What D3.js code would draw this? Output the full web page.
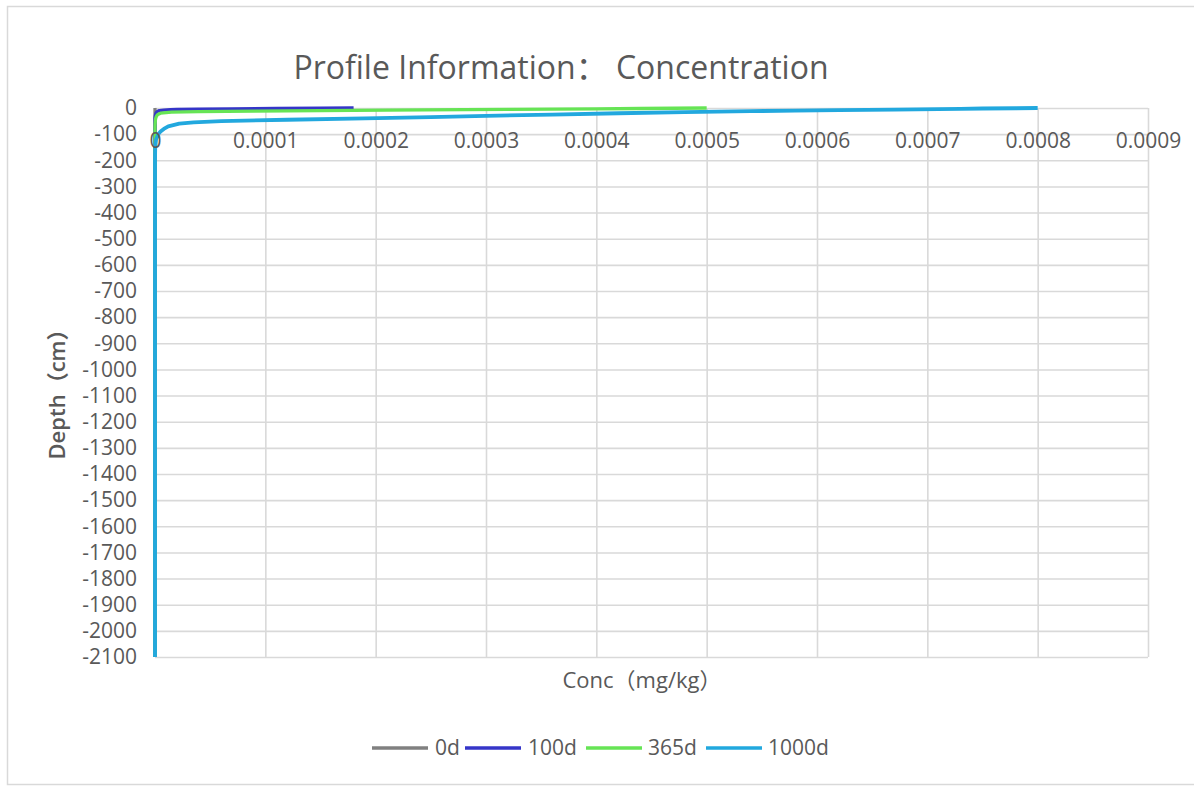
<!DOCTYPE html>
<html>
<head>
<meta charset="utf-8">
<script src="https://cdn.jsdelivr.net/npm/d3@7/dist/d3.min.js"></script>
<style>
  html, body { margin: 0; padding: 0; background: #ffffff; }
  svg { display: block; }
  text { font-family: "Open Sans", "Noto Sans CJK SC", sans-serif; fill: #595959; }
</style>
</head>
<body>
<svg id="chart" width="1194" height="787"></svg>
<script>
// Depth grid (cm) shared by every profile
const depths = [0, -1, -2, -3, -4, -5, -6, -8, -10, -12, -14, -16, -20, -25, -30, -35,
  -40, -45, -50, -55, -60, -70, -80, -90, -100, -120, -150, -200, -500, -1000, -1500, -2100];

// Concentration (mg/kg) at each depth, one array per time step
const conc0d = depths.map(() => 0);
const conc100d = [0.00018, 0.00015, 0.00011, 0.00007, 0.00004, 0.00002, 0.000014, 0.000008,
  0.000004, 0.0000028, 0.000002, 0.0000015, 0.0000009, 0.0000005, 0.0000003, 0.0000001,
  0, 0, 0, 0, 0, 0, 0, 0, 0, 0, 0, 0, 0, 0, 0, 0];
const conc365d = [0.0005, 0.00047, 0.00044, 0.0004, 0.00036, 0.00032, 0.00028, 0.00021,
  0.00015, 0.00009, 0.00004, 0.000015, 0.000005, 0.0000025, 0.0000015, 0.000001,
  0.0000006, 0.0000004, 0.0000003, 0.0000002, 0.0000001, 0, 0, 0, 0, 0, 0, 0, 0, 0, 0, 0];
const conc1000d = [0.0008, 0.00078, 0.00075, 0.00073, 0.00071, 0.00069, 0.00067, 0.00062,
  0.00058, 0.00054, 0.00051, 0.00048, 0.00042, 0.00036, 0.0003, 0.00025,
  0.00019, 0.00012, 0.00006, 0.000035, 0.000022, 0.000012, 0.000008, 0.000005,
  0.000003, 0.000001, 0.0000002, 0, 0, 0, 0, 0];

const seriesNames = ["0d", "100d", "365d", "1000d"];
const seriesValues = [conc0d, conc100d, conc365d, conc1000d];
const seriesColors = ["#808080", "#3535c8", "#66e455", "#22a8de"];

// Axis ticks
const xTickValues = [0, 0.0001, 0.0002, 0.0003, 0.0004, 0.0005, 0.0006, 0.0007, 0.0008, 0.0009];
const xTickLabels = ["0", "0.0001", "0.0002", "0.0003", "0.0004", "0.0005", "0.0006", "0.0007", "0.0008", "0.0009"];
const yTickValues = d3.range(0, -2101, -100);
const yTickLabels = yTickValues.map(v => String(v));

const titleText = "Profile Information：  Concentration";
const xTitle = "Conc（mg/kg）";
const yTitle = "Depth（cm）";

const svg = d3.select("#chart");
const plot = { left: 155, right: 1148, top: 108, bottom: 657 };

const x = d3.scaleLinear().domain([0, 0.0009]).range([plot.left, plot.right]);
const y = d3.scaleLinear().domain([-2100, 0]).range([plot.bottom, plot.top]);

// Outer chart frame
svg.append("rect")
  .attr("x", 7.5).attr("y", 6.5)
  .attr("width", 1192).attr("height", 778)
  .attr("fill", "none").attr("stroke", "#d9d9d9").attr("stroke-width", 1.5);

// Gridlines
const grid = svg.append("g").attr("class", "grid");
grid.append("g")
  .attr("transform", `translate(0,${plot.bottom})`)
  .call(d3.axisBottom(x).tickValues(xTickValues).tickSize(-(plot.bottom - plot.top)).tickFormat(""))
  .call(g => g.select(".domain").remove());
grid.append("g")
  .attr("transform", `translate(${plot.left},0)`)
  .call(d3.axisLeft(y).tickValues(yTickValues).tickSize(-(plot.right - plot.left)).tickFormat(""))
  .call(g => g.select(".domain").remove());
grid.selectAll("line").attr("stroke", "#d9d9d9").attr("stroke-width", 1.6);

// Profiles
const line = d3.line()
  .x(d => x(d.c))
  .y(d => y(d.z));

seriesValues.forEach((vals, i) => {
  const pts = depths.map((z, k) => ({ z: z, c: vals[k] }));
  svg.append("path")
    .datum(pts)
    .attr("fill", "none")
    .attr("stroke", seriesColors[i])
    .attr("stroke-width", i === 3 ? 3.8 : 3.3)
    .attr("stroke-linejoin", "round")
    .attr("stroke-linecap", "butt")
    .attr("d", line);
});

// Axis labels
const xAxis = svg.append("g")
  .attr("transform", `translate(0,${y(0)})`)
  .call(d3.axisBottom(x).tickValues(xTickValues).tickSize(0).tickPadding(25)
    .tickFormat((d, i) => xTickLabels[i]));
xAxis.select(".domain").remove();
xAxis.selectAll("text").style("font-size", "21px").attr("fill", "#595959");

const yAxis = svg.append("g")
  .attr("transform", `translate(${plot.left},0)`)
  .call(d3.axisLeft(y).tickValues(yTickValues).tickSize(0).tickPadding(18)
    .tickFormat((d, i) => yTickLabels[i]));
yAxis.select(".domain").remove();
yAxis.selectAll("text").style("font-size", "21px").attr("fill", "#595959");

// Titles
svg.append("text")
  .attr("x", 561).attr("y", 79)
  .attr("text-anchor", "middle")
  .style("font-size", "32px")
  .text(titleText);

svg.append("text")
  .attr("x", 642).attr("y", 688)
  .attr("text-anchor", "middle")
  .style("font-size", "22px")
  .text(xTitle);

svg.append("text")
  .attr("transform", "translate(65,389) rotate(-90)")
  .attr("text-anchor", "middle")
  .style("font-size", "22px")
  .style("font-weight", "600")
  .text(yTitle);

// Legend
const legendItems = [
  { x: 372, tx: 435 },
  { x: 465, tx: 528 },
  { x: 586, tx: 648 },
  { x: 706, tx: 768 }
];
const legend = svg.append("g").attr("class", "legend");
seriesNames.forEach((name, i) => {
  const it = legendItems[i];
  legend.append("line")
    .attr("x1", it.x).attr("x2", it.x + 56)
    .attr("y1", 748).attr("y2", 748)
    .attr("stroke", seriesColors[i]).attr("stroke-width", 3.5);
  legend.append("text")
    .attr("x", it.tx).attr("y", 755)
    .style("font-size", "21px")
    .text(name);
});
</script>
</body>
</html>
